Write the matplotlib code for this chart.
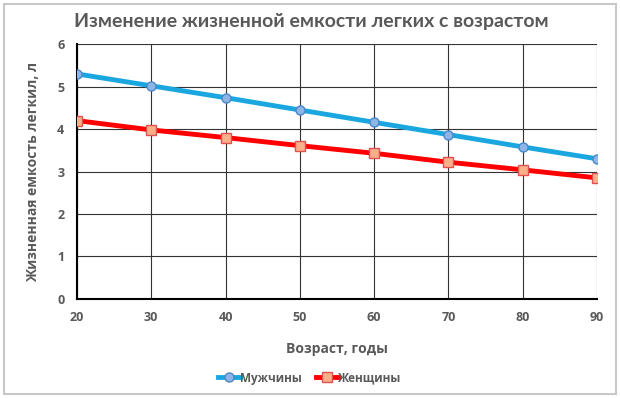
import matplotlib
matplotlib.use("Agg")
import matplotlib.pyplot as plt
from matplotlib.patches import Rectangle

ages = [20, 30, 40, 50, 60, 70, 80, 90]
men = [5.3, 5.02, 4.74, 4.45, 4.16, 3.87, 3.58, 3.3]
women = [4.2, 3.98, 3.8, 3.61, 3.43, 3.22, 3.04, 2.85]
yticks = [0, 1, 2, 3, 4, 5, 6]

plt.rcParams['font.family'] = ['Open Sans', 'DejaVu Sans']
gray = '#595959'

fig = plt.figure(figsize=(6.2, 3.98), dpi=100)
fig.patch.set_facecolor('white')
fig.add_artist(Rectangle((0.006, 0.01), 0.988, 0.98, transform=fig.transFigure,
                         fill=False, edgecolor='#c8c8c8', linewidth=1.5))
ax = fig.add_axes([0.124, 0.249, 0.839, 0.640])

ax.plot(ages, men, color='#1aa7e0', linewidth=3.5, marker='o', markersize=6.5,
        markerfacecolor='#8db6e6', markeredgecolor='#4a86c8', markeredgewidth=1, label='Мужчины', zorder=3)
ax.plot(ages, women, color='#ff0000', linewidth=3.5, marker='s', markersize=6.5,
        markerfacecolor='#f9b08a', markeredgecolor='#e05050', markeredgewidth=1, label='Женщины', zorder=3)

ax.set_xlim(20, 90)
ax.set_ylim(0, 6)
ax.set_xticks(ages)
ax.set_yticks(yticks)
ax.grid(True, color='#333333', linewidth=0.8)
ax.set_axisbelow(True)
for s in ['top', 'right']:
    ax.spines[s].set_visible(False)
for s in ['left', 'bottom']:
    ax.spines[s].set_color('black')
    ax.spines[s].set_linewidth(1.5)
ax.tick_params(length=0, pad=9, labelsize=9, labelcolor=gray)
for lab in ax.get_xticklabels() + ax.get_yticklabels():
    lab.set_fontweight('bold')

ax.set_xlabel('Возраст, годы', fontsize=10, fontweight='bold', color=gray, labelpad=13)
ax.set_ylabel('Жизненная емкость легкил, л', fontsize=10, fontweight='bold', color=gray, labelpad=12)
fig.text(0.502, 0.946, 'Изменение жизненной емкости легких с возрастом', ha='center', va='center',
         fontsize=14, fontweight='bold', color=gray, family=['Lato', 'DejaVu Sans'])

leg = fig.legend(loc='center', bbox_to_anchor=(0.5, 0.05), ncol=2, frameon=False,
                 fontsize=8.5, handlelength=1.8, columnspacing=1.2, handletextpad=0.05)
for t in leg.get_texts():
    t.set_fontweight('bold')
    t.set_color(gray)

fig.savefig('out.png', dpi=100)
